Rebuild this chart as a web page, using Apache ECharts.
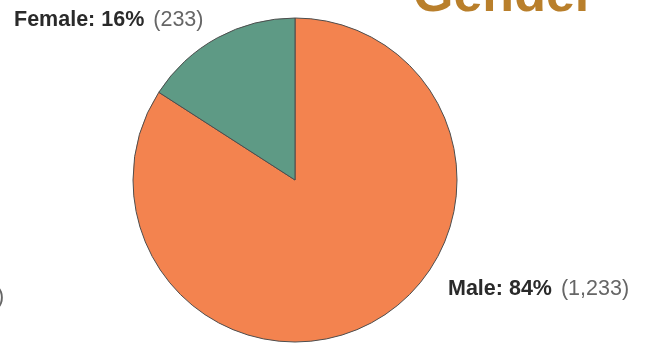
<!DOCTYPE html>
<html>
<head>
<meta charset="utf-8">
<script src="https://cdn.jsdelivr.net/npm/echarts@6/dist/echarts.min.js"></script>
<style>
  html, body { margin: 0; padding: 0; background: #fff; }
  #chart { width: 648px; height: 343px; }
</style>
</head>
<body>
<div id="chart"></div>
<script>
// Respondents by gender
const categories = ['Male', 'Female'];
const counts = [1233, 233];
const sliceColors = ['#F3834F', '#5E9A85'];

const chart = echarts.init(document.getElementById('chart'), null, { renderer: 'canvas' });

const labelFont = '"Liberation Sans", Arial, Helvetica, sans-serif';

// Fixed label anchor points (left edge, vertical middle) for each slice
const labelAnchors = [
  { x: 448, y: 289 },  // Male
  { x: 14, y: 20 }     // Female
];

chart.setOption({
  animation: false,
  title: {
    text: 'Gender',
    left: 408,
    top: -34,
    textStyle: {
      fontFamily: labelFont,
      fontSize: 52,
      fontWeight: 'bold',
      color: '#B97F2B',
      lineHeight: 52
    }
  },
  graphic: [{
    type: 'text',
    left: -3,
    top: 286,
    style: {
      text: ')',
      fontFamily: labelFont,
      fontSize: 21.5,
      fill: '#666'
    }
  }],
  series: [{
    type: 'pie',
    center: [295, 180],
    radius: 162,
    startAngle: 90,
    clockwise: true,
    data: categories.map((name, i) => ({
      name: name,
      value: counts[i],
      itemStyle: { color: sliceColors[i] }
    })),
    itemStyle: {
      borderColor: '#4d4d4d',
      borderWidth: 1
    },
    emphasis: { disabled: true },
    labelLine: { show: false },
    label: {
      show: true,
      position: 'outside',
      overflow: 'none',
      formatter: function (p) {
        return '{b|' + p.name + ': ' + Math.round(p.percent) + '%}{c|(' +
          p.value.toLocaleString('en-US') + ')}';
      },
      rich: {
        b: { fontFamily: labelFont, fontSize: 21.5, fontWeight: 'bold', color: '#2a2a2a' },
        c: { fontFamily: labelFont, fontSize: 21.5, color: '#666', padding: [0, 0, 0, 9] }
      }
    },
    labelLayout: function (params) {
      const a = labelAnchors[params.dataIndex];
      return { x: a.x, y: a.y, align: 'left', verticalAlign: 'middle', hideOverlap: false };
    }
  }]
});
</script>
</body>
</html>
